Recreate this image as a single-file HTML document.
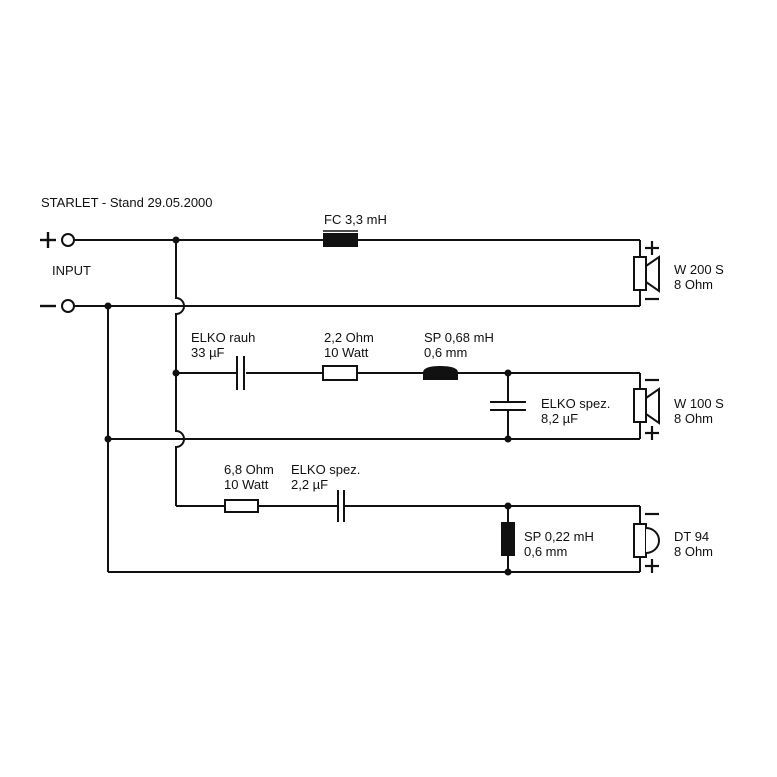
<!DOCTYPE html>
<html><head><style>body{margin:0;background:#fff}svg{display:block}text{font-family:"Liberation Sans",Arial,sans-serif;font-size:13px;fill:#111}</style></head>
<body>
<svg width="777" height="777" viewBox="0 0 777 777" xmlns="http://www.w3.org/2000/svg">
<g stroke="#111" stroke-width="2" fill="none">
<line x1="74" y1="240" x2="640" y2="240"/>
<line x1="74" y1="306" x2="640" y2="306"/>
<line x1="176" y1="373" x2="640" y2="373"/>
<line x1="108" y1="439" x2="640" y2="439"/>
<line x1="176" y1="506" x2="640" y2="506"/>
<line x1="108" y1="572" x2="640" y2="572"/>
<path d="M176 240 V298 A8 8 0 0 1 176 314 V431 A8 8 0 0 1 176 447 V506"/>
<line x1="108" y1="306" x2="108" y2="572"/>
<line x1="640" y1="240" x2="640" y2="306"/>
<line x1="640" y1="373" x2="640" y2="439"/>
<line x1="640" y1="506" x2="640" y2="572"/>
<line x1="508" y1="373" x2="508" y2="439"/>
<line x1="508" y1="506" x2="508" y2="572"/>
</g>
<g stroke="#111" stroke-width="2" fill="#fff">
<circle cx="68" cy="240" r="6"/>
<circle cx="68" cy="306" r="6"/>
</g>
<g stroke="#111" stroke-width="2.4">
<line x1="40" y1="240" x2="56" y2="240"/><line x1="48" y1="232" x2="48" y2="248"/>
<line x1="40" y1="306" x2="56" y2="306"/>
</g>
<g fill="#111">
<circle cx="176" cy="240" r="3.5"/><circle cx="108" cy="306" r="3.5"/>
<circle cx="176" cy="373" r="3.5"/><circle cx="108" cy="439" r="3.5"/>
<circle cx="508" cy="373" r="3.5"/><circle cx="508" cy="439" r="3.5"/>
<circle cx="508" cy="506" r="3.5"/><circle cx="508" cy="572" r="3.5"/>
</g>
<rect x="323" y="233" width="35" height="14" fill="#111"/>
<line x1="323" y1="231" x2="358" y2="231" stroke="#111" stroke-width="1.5"/>
<rect x="236" y="355" width="10" height="36" fill="#fff"/>
<g stroke="#111" stroke-width="2"><line x1="237" y1="356" x2="237" y2="390"/><line x1="244" y1="356" x2="244" y2="390"/></g>
<rect x="323" y="366" width="34" height="14" fill="#fff" stroke="#111" stroke-width="2"/>
<path d="M423 380 V372 Q424 366 440 366 Q457 366 458 372 V380 Z" fill="#111"/>
<rect x="489" y="402" width="38" height="8" fill="#fff"/>
<g stroke="#111" stroke-width="2"><line x1="490" y1="402" x2="526" y2="402"/><line x1="490" y1="410" x2="526" y2="410"/></g>
<rect x="225" y="500" width="33" height="12" fill="#fff" stroke="#111" stroke-width="2"/>
<rect x="337" y="490" width="8" height="33" fill="#fff"/>
<g stroke="#111" stroke-width="2"><line x1="338" y1="490" x2="338" y2="522"/><line x1="344" y1="490" x2="344" y2="522"/></g>
<rect x="501" y="522" width="14" height="34" fill="#111"/>
<g stroke="#111" stroke-width="2" fill="#fff">
<rect x="634" y="257" width="12" height="33"/>
<polygon points="646,266 659,257 659,291 646,282"/>
<rect x="634" y="389" width="12" height="33"/>
<polygon points="646,398 659,389 659,423 646,414"/>
<rect x="634" y="524" width="12" height="33"/>
<path d="M646 528 A13 12.5 0 0 1 646 553"/>
</g>
<g stroke="#111" stroke-width="2.2">
<line x1="645" y1="248" x2="659" y2="248"/><line x1="652" y1="241" x2="652" y2="255"/>
<line x1="645" y1="299" x2="659" y2="299"/>
<line x1="645" y1="380" x2="659" y2="380"/>
<line x1="645" y1="433" x2="659" y2="433"/><line x1="652" y1="426" x2="652" y2="440"/>
<line x1="645" y1="514" x2="659" y2="514"/>
<line x1="645" y1="566" x2="659" y2="566"/><line x1="652" y1="559" x2="652" y2="573"/>
</g>
<text x="41" y="207">STARLET - Stand 29.05.2000</text>
<text x="52" y="275">INPUT</text>
<text x="324" y="224">FC 3,3 mH</text>
<text x="191" y="342">ELKO rauh</text><text x="191" y="357">33 µF</text>
<text x="324" y="342">2,2 Ohm</text><text x="324" y="357">10 Watt</text>
<text x="424" y="342">SP 0,68 mH</text><text x="424" y="357">0,6 mm</text>
<text x="541" y="408">ELKO spez.</text><text x="541" y="423">8,2 µF</text>
<text x="674" y="274">W 200 S</text><text x="674" y="289">8 Ohm</text>
<text x="674" y="408">W 100 S</text><text x="674" y="423">8 Ohm</text>
<text x="224" y="474">6,8 Ohm</text><text x="224" y="489">10 Watt</text>
<text x="291" y="474">ELKO spez.</text><text x="291" y="489">2,2 µF</text>
<text x="524" y="541">SP 0,22 mH</text><text x="524" y="556">0,6 mm</text>
<text x="674" y="541">DT 94</text><text x="674" y="556">8 Ohm</text>
</svg>
</body></html>
